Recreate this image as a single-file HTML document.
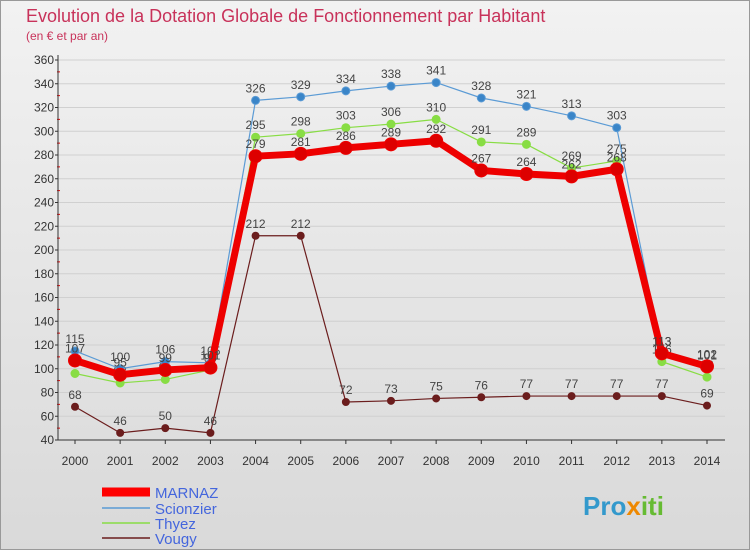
<!DOCTYPE html>
<html><head><meta charset="utf-8"><style>
body{margin:0;width:750px;height:550px;overflow:hidden;font-family:"Liberation Sans",sans-serif}
</style></head><body>
<svg id="c" width="750" height="550" xmlns="http://www.w3.org/2000/svg" style="font-family:'Liberation Sans',sans-serif">
<defs><linearGradient id="bg" x1="0" y1="0" x2="0" y2="1"><stop offset="0" stop-color="#f2f2f2"/><stop offset="1" stop-color="#d9d9d9"/></linearGradient></defs>
<rect width="750" height="550" fill="url(#bg)"/>
<rect x="0.5" y="0.5" width="749" height="549" fill="none" stroke="#999"/>
<text x="26" y="22" font-size="18" fill="#c8325a">Evolution de la Dotation Globale de Fonctionnement par Habitant</text>
<text x="26" y="40" font-size="12" fill="#c8325a">(en € et par an)</text>
<g id="grid"></g><g id="axes"></g><g id="series"></g>
<g font-size="15">
<line x1="102" y1="492" x2="150" y2="492" stroke="#ff0000" stroke-width="9"/>
<text x="155" y="498" fill="#4466dd">MARNAZ</text>
<line x1="102" y1="508" x2="150" y2="508" stroke="#5b9bd5" stroke-width="1.5"/>
<text x="155" y="514" fill="#4466dd">Scionzier</text>
<line x1="102" y1="523" x2="150" y2="523" stroke="#88dd44" stroke-width="1.5"/>
<text x="155" y="529" fill="#4466dd">Thyez</text>
<line x1="102" y1="538" x2="150" y2="538" stroke="#6b1d1d" stroke-width="1.5"/>
<text x="155" y="544" fill="#4466dd">Vougy</text>
</g>
<text x="583" y="515" font-size="26" font-weight="bold" fill="#3399cc">Pro<tspan fill="#ee8800">x</tspan><tspan fill="#66bb33">iti</tspan></text>
</svg>
<script>
const years=[2000,2001,2002,2003,2004,2005,2006,2007,2008,2009,2010,2011,2012,2013,2014];
const yTicks=[40,60,80,100,120,140,160,180,200,220,240,260,280,300,320,340,360];
const marnaz=[107,95,99,101,279,281,286,289,292,267,264,262,268,113,102];
const scionzier=[115,100,106,105,326,329,334,338,341,328,321,313,303,113,101];
const thyez=[96,88,91,99,295,298,303,306,310,291,289,269,275,106,93];
const vougy=[68,46,50,46,212,212,72,73,75,76,77,77,77,77,69];
const NS="http://www.w3.org/2000/svg";
const X=i=>75+i*(707-75)/14, Y=v=>440-(v-40)*380/320;
function mk(t,a,p){const e=document.createElementNS(NS,t);for(const k in a)e.setAttribute(k,a[k]);p.appendChild(e);return e;}
const g=document.getElementById('grid'),ax=document.getElementById('axes'),s=document.getElementById('series');
yTicks.forEach(v=>{
 const l=mk('line',{x1:58,x2:725,y1:Y(v),y2:Y(v),stroke:'#d0d0d0'},g);
 
 
 const t=mk('text',{x:54,y:Y(v)+4,'font-size':12,'text-anchor':'end',fill:'#333'},ax);t.textContent=v;
 
 
 mk('line',{x1:55,x2:58,y1:Y(v),y2:Y(v),stroke:'#333'},ax);
 if(v<360)mk('line',{x1:57,x2:60,y1:Y(v+10),y2:Y(v+10),stroke:'#e00'},ax);
});
mk('line',{x1:58,x2:58,y1:55,y2:440,stroke:'#333'},ax);
mk('line',{x1:58,x2:725,y1:440,y2:440,stroke:'#333'},ax);
years.forEach((y,i)=>{
 mk('line',{x1:X(i),x2:X(i),y1:440,y2:444,stroke:'#333'},ax);
 const t=mk('text',{x:X(i),y:465,'font-size':12,'text-anchor':'middle',fill:'#333'},ax);t.textContent=y;
 
 
});
function draw(d,name,col,w,r,dot){
 const grp=mk('g',{},s);
 
 
 mk('polyline',{points:d.map((v,i)=>X(i)+','+Y(v)).join(' '),fill:'none',stroke:col,'stroke-width':w,'stroke-linejoin':'round'},grp);
 d.forEach((v,i)=>{
  const c=mk('circle',{cx:X(i),cy:Y(v),r:r,fill:dot,stroke:col},grp);
  
  
  const t=mk('text',{x:X(i),y:Y(v)-8,'font-size':12,'text-anchor':'middle',fill:'#444'},grp);t.textContent=v;
 });
}
draw(vougy,'vougy','#6b1d1d',1.2,3.5,'#6b1d1d');
draw(thyez,'thyez','#88dd44',1.2,4,'#88dd44');
draw(scionzier,'scionzier','#5b9bd5',1.2,4,'#3a85c8');
draw(marnaz,'marnaz','#ee0000',7,6.5,'#dd0000');
</script>
</body></html>
